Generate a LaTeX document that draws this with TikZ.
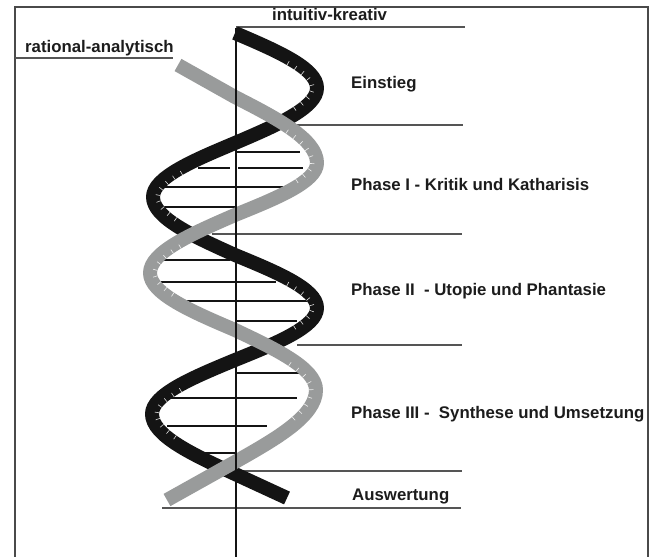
\documentclass[tikz,border=0pt]{standalone}
\usepackage{fontspec}
\setmainfont{Liberation Sans}
\usetikzlibrary{decorations.markings}
\definecolor{strandblack}{HTML}{141414}
\definecolor{strandgray}{HTML}{999B9B}
\definecolor{rulegray}{HTML}{555555}
\definecolor{framegray}{HTML}{4A4A4A}
\definecolor{labeltext}{HTML}{1C1C1C}
\tikzset{
  strand/.style={line width=14pt, line cap=butt, line join=round},
  rung/.style={line width=1.8pt, strandblack},
  divider/.style={line width=1.3pt, rulegray},
  axisline/.style={line width=1.8pt, strandblack},
  phaselabel/.style={font=\bfseries\fontsize{16.8}{20}\selectfont, text=labeltext,
                     anchor=base west, inner sep=0pt},
  % short white hairs along the inner edge of a bend;
  % hairsright: bend opens to the right of travel, hairsleft: to the left
  hairsright/.style={postaction={decorate}, decoration={markings,
      mark=between positions 0.3 and 0.7 step 0.045 with
      {\draw[white, opacity=0.85, line width=0.6pt] (0pt,-7pt) -- (0pt,-2.5pt);}}},
  hairsleft/.style={postaction={decorate}, decoration={markings,
      mark=between positions 0.3 and 0.7 step 0.045 with
      {\draw[white, opacity=0.85, line width=0.6pt] (0pt,7pt) -- (0pt,2.5pt);}}},
}
\begin{document}
\begin{tikzpicture}[x=1pt,y=-1pt]
  \useasboundingbox (0,0) rectangle (654,557);
  \fill[white] (0,0) rectangle (654,557);

  % open frame
  \draw[framegray, line width=1.5pt] (15,560) -- (15,7) -- (648,7) -- (648,560);

  % phase dividers
  \draw[divider] (236,27) -- (465,27);
  \draw[divider] (15,58) -- (173,58);
  \draw[divider] (297,125) -- (463,125);
  \draw[divider] (212,234) -- (462,234);
  \draw[divider] (297,345) -- (462,345);
  \draw[divider] (237,471) -- (462,471);
  \draw[divider] (162,508) -- (461,508);

  % rungs, phase I
  \draw[rung] (237,152) -- (300,152);
  \draw[rung] (198,168) -- (230,168);
  \draw[rung] (238,168) -- (303,168);
  \draw[rung] (165,187) -- (283,187);
  \draw[rung] (163,207) -- (236,207);
  % rungs, phase II
  \draw[rung] (162,260) -- (230,260);
  \draw[rung] (160,282) -- (276,282);
  \draw[rung] (187,301) -- (307,301);
  \draw[rung] (237,321) -- (297,321);
  % rungs, phase III
  \draw[rung] (237,373) -- (301,373);
  \draw[rung] (168,398) -- (297,398);
  \draw[rung] (167,426) -- (267,426);
  \draw[rung] (195,453) -- (236,453);

  % dark strand
  \draw[strand, strandblack] (235,33)
    .. controls (276,50.5) and (317,68) .. (317,88)
    .. controls (317,108) and (276,125.5) .. (235,143)
    .. controls (194,160.2) and (153,177.4) .. (153,197)
    .. controls (153,218.1) and (194,236.5) .. (235,255)
    .. controls (276,271.9) and (317,288.7) .. (317,308)
    .. controls (317,326.9) and (276,343.4) .. (235,360)
    .. controls (193.5,377.2) and (152,394.4) .. (152,414)
    .. controls (152,435.8) and (193.5,454.9) .. (235,474)
    -- (287,498);
  % hairs on the bends of the dark strand
  \path[hairsright] (235,33)
    .. controls (276,50.5) and (317,68) .. (317,88)
    .. controls (317,108) and (276,125.5) .. (235,143);
  \path[hairsleft] (235,143)
    .. controls (194,160.2) and (153,177.4) .. (153,197)
    .. controls (153,218.1) and (194,236.5) .. (235,255);
  \path[hairsright] (235,255)
    .. controls (276,271.9) and (317,288.7) .. (317,308)
    .. controls (317,326.9) and (276,343.4) .. (235,360);
  \path[hairsleft] (235,360)
    .. controls (193.5,377.2) and (152,394.4) .. (152,414)
    .. controls (152,435.8) and (193.5,454.9) .. (235,474);

  % light strand
  \draw[strand, strandgray] (178,65) -- (235,97)
    .. controls (276,118) and (317,139) .. (317,163)
    .. controls (317,181.9) and (276,198.4) .. (235,215)
    .. controls (192.5,233.5) and (150,251.9) .. (150,273)
    .. controls (150,293.7) and (192.5,311.9) .. (235,330)
    .. controls (275.5,349.1) and (316,368.2) .. (316,390)
    .. controls (316,416.2) and (275.5,439.1) .. (235,462)
    -- (167,500);
  % hairs on the bends of the light strand
  \path[hairsright] (235,97)
    .. controls (276,118) and (317,139) .. (317,163)
    .. controls (317,181.9) and (276,198.4) .. (235,215);
  \path[hairsleft] (235,215)
    .. controls (192.5,233.5) and (150,251.9) .. (150,273)
    .. controls (150,293.7) and (192.5,311.9) .. (235,330);
  \path[hairsright] (235,330)
    .. controls (275.5,349.1) and (316,368.2) .. (316,390)
    .. controls (316,416.2) and (275.5,439.1) .. (235,462);

  % central axis
  \draw[axisline] (236,28) -- (236,560);

  % labels
  \node[phaselabel] (intuitiv) at (272,20.7) {intuitiv-kreativ};
  \node[phaselabel] (rational) at (25,52) {rational-analytisch};
  \node[phaselabel] (einstieg) at (351,88) {Einstieg};
  \node[phaselabel] (phaseone) at (351,190) {Phase I - Kritik und Katharisis};
  \node[phaselabel] (phasetwo) at (351,295) {Phase II\ \ - Utopie und Phantasie};
  \node[phaselabel] (phasethree) at (351,418) {Phase III -\ \ Synthese und Umsetzung};
  \node[phaselabel] (auswertung) at (352,500) {Auswertung};
\end{tikzpicture}
\end{document}
